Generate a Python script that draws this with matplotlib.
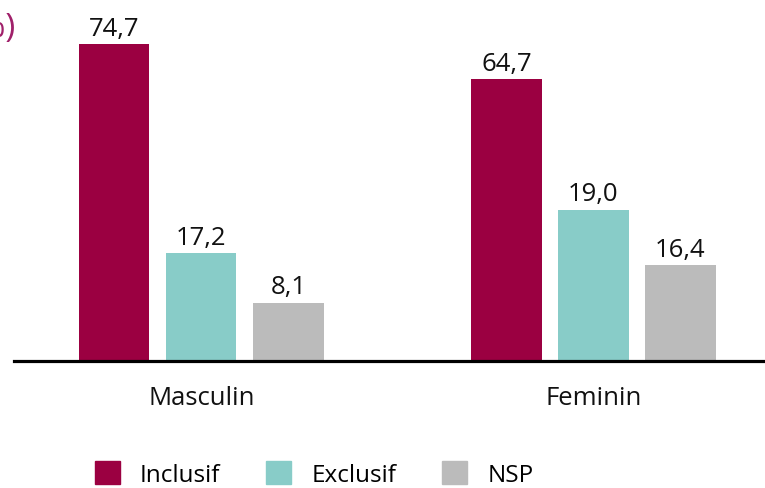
import matplotlib
matplotlib.use("Agg")
import matplotlib.pyplot as plt
import matplotlib.patches as mpatches
import numpy as np

plt.rcParams['font.family'] = ['Open Sans', 'DejaVu Sans']

categories = ["Masculin", "Feminin"]
series = ["Inclusif", "Exclusif", "NSP"]
labels_inclusif = [74.7, 64.7]
labels_exclusif = [17.2, 19.0]
labels_nsp = [8.1, 16.4]
# bar heights as drawn in the reference (same scale as the 74,7 bar)
heights_inclusif = [74.7, 66.4]
heights_exclusif = [25.4, 35.6]
heights_nsp = [13.7, 22.6]
colors = ["#9b0041", "#88ccc8", "#bbbbbb"]

W, H = 765, 489
fig = plt.figure(figsize=(W / 100, H / 100), dpi=100)
ax = fig.add_axes([14 / W, 1 - 362 / H, 1 - 14 / W, 362 / H])

x = np.arange(len(categories))
width = 0.179
offset = 0.222
heights = [heights_inclusif, heights_exclusif, heights_nsp]
labels = [labels_inclusif, labels_exclusif, labels_nsp]
for i, (name, h, lab, c) in enumerate(zip(series, heights, labels, colors)):
    pos = x + (i - 1) * offset
    bars = ax.bar(pos, h, width=width, color=c, label=name, zorder=2)
    for b, v in zip(bars, lab):
        ax.annotate(f"{v:.1f}".replace(".", ","),
                    (b.get_x() + b.get_width() / 2, b.get_height()),
                    xytext=(0, 2.5), textcoords="offset points",
                    ha="center", va="bottom", fontsize=18.5, color="#111111")

ax.set_xlim(-0.478, 1.4375)
ax.set_ylim(0, 362 / 4.244)
ax.set_xticks(x)
ax.set_xticklabels(categories, fontsize=18.5, color="#111111")
ax.tick_params(axis="x", length=0, pad=17.5)
ax.set_yticks([])
for s in ["top", "right", "left"]:
    ax.spines[s].set_visible(False)
ax.spines["bottom"].set_linewidth(2.3)
ax.spines["bottom"].set_color("black")
ax.spines["bottom"].set_zorder(3)

fig.text(16 / W, 1 - 28 / H, "(%)", ha="right", va="center",
         fontsize=24, color="#a0206a")

handles = [mpatches.Patch(color=c, label=n) for n, c in zip(series, colors)]
fig.legend(handles=handles, loc="center", bbox_to_anchor=(314 / W, 1 - 475 / H),
           ncol=3, frameon=False, fontsize=17.5, handlelength=1.03,
           handleheight=1.07, handletextpad=0.82, columnspacing=1.9,
           borderaxespad=0, borderpad=0)

fig.savefig("out.png", dpi=100)
